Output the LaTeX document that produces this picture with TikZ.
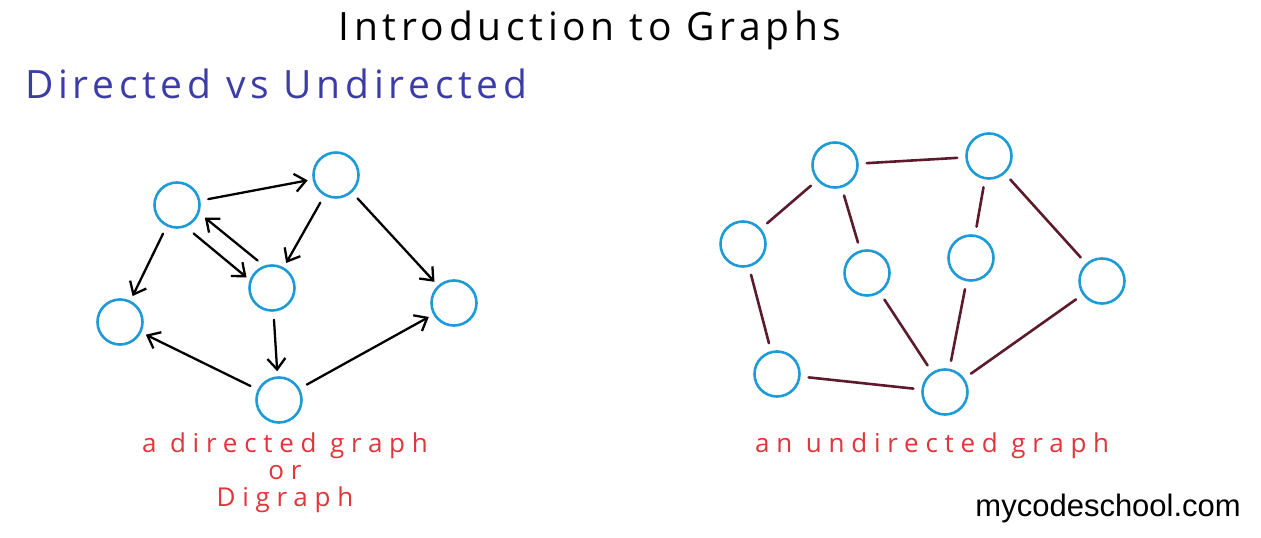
\documentclass[tikz,border=0pt]{standalone}
\usepackage{fontspec}
\newfontfamily\handfont[LetterSpace=12]{Open Sans}
\newfontfamily\notefont[LetterSpace=26]{Open Sans}
\newfontfamily\logofont{Liberation Sans}
\usetikzlibrary{arrows.meta}
\definecolor{nodeblue}{HTML}{1E9BD7}
\definecolor{linkred}{HTML}{5C1A2B}
\definecolor{inkblue}{HTML}{3C3CA8}
\definecolor{inkred}{HTML}{E0353A}

\begin{document}
\begin{tikzpicture}[x=1pt,y=-1pt,line cap=round,line join=round,
  vertex/.style={circle,draw=nodeblue,line width=2.6pt,minimum size=45pt,inner sep=0pt},
  arrowline/.style={-{Straight Barb[length=11pt,width=18pt,line width=2.3pt]},line width=2.3pt,
    shorten <=8pt,shorten >=5pt},
  link/.style={draw=linkred,line width=2.6pt,shorten <=8pt,shorten >=8pt},
  hand/.style={font=\handfont\fontsize{39}{44}\selectfont,inner sep=0pt},
  caption/.style={font=\notefont\fontsize{26}{27}\selectfont,text=inkred,inner sep=0pt}]
\useasboundingbox (0,0) rectangle (1261,538);

% Headings.
\node[hand,anchor=base] (title) at (590,40) {Introduction to Graphs};
\node[hand,anchor=base west,text=inkblue] (subtitle) at (25,98)
  {Directed vs Undirected};

% Directed graph.
\foreach \n/\x/\y in {a/177/205,b/336/175,c/272/288,d/120/322,e/454/303,f/279/400}
  \node[vertex] (\n) at (\x,\y) {};
\foreach \s/\t in {a/b,b/c,a/d,b/e,c/f,f/d,f/e}
  \draw[arrowline] (\s) -- (\t);
% the two opposite arcs between a and c
\draw[arrowline,shorten <=10pt,shorten >=4pt] (a.-68) -- (c.160);
\draw[arrowline,shorten <=8pt,shorten >=7pt] (c.110) -- (a.-20);
\node[caption,align=center,anchor=north] (dirname) at (285,433)
  {a directed graph\\or\\Digraph};

% Undirected graph.
\foreach \n/\x/\y in {p/835/165,q/989/156,r/743/244,s/867/273,t/971/258,u/1102/281,v/777/374,w/945/392}
  \node[vertex] (\n) at (\x,\y) {};
\foreach \s/\t in {p/q,p/r,p/s,q/t,q/u,r/v,v/w,s/w,t/w,u/w}
  \draw[link] (\s) -- (\t);
\node[caption,anchor=base west] (undirname) at (755,452) {an undirected graph};

% Logo.
\node[font=\logofont\fontsize{31}{34}\selectfont,anchor=base east,inner sep=0pt]
  (logo) at (1241,516) {mycodeschool.com};
\end{tikzpicture}
\end{document}
